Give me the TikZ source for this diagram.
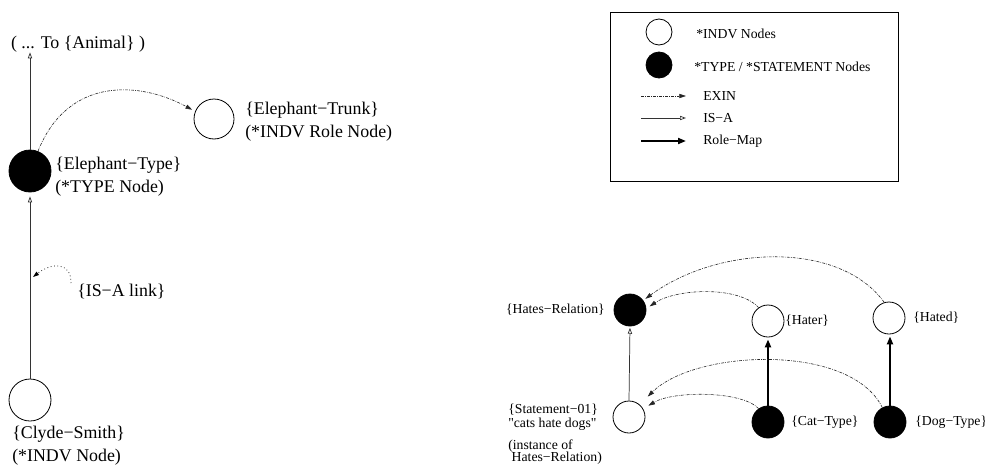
\documentclass[tikz,border=0pt]{standalone}
\usepackage{fontspec}
\setmainfont{Liberation Serif}[Ligatures=TeXOff]
\usetikzlibrary{arrows.meta}
\begin{document}
\begin{tikzpicture}[x=0.75pt,y=-0.75pt,
  indv/.style={circle,draw,line width=0.6pt,fill=white,inner sep=0pt,minimum size=#1},
  indv/.default=24pt,
  typen/.style={circle,draw,fill=black,line width=0.6pt,inner sep=0pt,minimum size=#1},
  typen/.default=24pt,
  bigfont/.style={font=\fontsize{13.4}{17.3}\selectfont,inner sep=0pt,align=left},
  smallfont/.style={font=\fontsize{10.3}{10.5}\selectfont,inner sep=0pt,align=left},
  exin/.style={line width=0.45pt,black!85,dash pattern=on 2.2pt off 0.9pt on 0.5pt off 0.9pt,
    -{Triangle[length=5pt,width=3.2pt]}},
  isa/.style={line width=0.55pt,black!80,-{Triangle[open,length=4.5pt,width=3.2pt]}},
  rolemap/.style={line width=1.7pt,-{Triangle[length=6pt,width=4.5pt]}},
  note/.style={line width=0.55pt,dotted,-{Triangle[length=4.5pt,width=3pt]}}
]
\useasboundingbox (0,0) rectangle (985,464);

% ---------------- left part ----------------
\node[bigfont] (animal) at (78,44) {( ... To \{Animal\} )};
\node[typen=31.5pt] (et) at (30,171) {};
\node[indv=30pt] (trunk) at (214,119) {};
\node[indv=31.5pt] (clyde) at (30,400) {};

\node[bigfont,anchor=west] (etl) at (55,176.5) {\{Elephant−Type\}\\(*TYPE Node)};
\node[bigfont,anchor=west] (trl) at (245,122) {\{Elephant−Trunk\}\\(*INDV Role Node)};
\node[bigfont,anchor=west] (cll) at (12,446) {\{Clyde−Smith\}\\(*INDV Node)};
\node[bigfont,anchor=west] (isal) at (77,291) {\{IS−A link\}};

\draw[isa] (et.north) -- (et.north |- animal.south);
\draw[isa,shorten >=3pt] (clyde.north) -- (et.south);
\draw[exin,shorten >=2.5pt] (et.68) .. controls +(30,-75) and +(-55,-30) .. (trunk.158);
\coordinate (isas) at (71,283);
\draw[note] (isas) .. controls +(0,-22) and +(18,-14) .. (33,277);

% ---------------- legend ----------------
\draw[line width=0.6pt] (610,12) rectangle (898,181);
\node[indv=19.5pt] (lg1) at (659,32) {};
\node[typen=19.5pt] (lg2) at (659,65) {};
\node[smallfont,anchor=west] (lt1) at (696,34) {*INDV Nodes};
\node[smallfont,anchor=west] (lt2) at (694,67) {*TYPE / *STATEMENT Nodes};
\coordinate (e1a) at (641,96); \coordinate (e1b) at (686,96);
\coordinate (e2a) at (641,118); \coordinate (e2b) at (686,118);
\coordinate (e3a) at (641,141); \coordinate (e3b) at (686,141);
\draw[exin] (e1a) -- (e1b);
\draw[isa] (e2a) -- (e2b);
\draw[rolemap,line width=1.4pt] (e3a) -- (e3b);
\node[smallfont,anchor=west] (lt3) at (703,96) {EXIN};
\node[smallfont,anchor=west] (lt4) at (703,118) {IS−A};
\node[smallfont,anchor=west] (lt5) at (703,141) {Role−Map};

% ---------------- right part ----------------
\node[typen] (hates) at (630,310) {};
\node[indv] (stmt) at (629,417) {};
\node[indv] (hater) at (768,321) {};
\node[indv] (hated) at (889,318) {};
\node[typen] (cat) at (768,422) {};
\node[typen] (dog) at (890,422) {};

\node[smallfont,anchor=east] (hatesl) at (605,310) {\{Hates−Relation\}};
\node[smallfont,anchor=west] (stmtl) at (508,417) {\{Statement−01\}\\"cats hate dogs"};
\node[smallfont,anchor=west,font=\fontsize{10.3}{9.5}\selectfont] (stmtl2) at (508,452) {(instance of\\\ Hates−Relation)};
\node[smallfont,anchor=west] (haterl) at (785,321) {\{Hater\}};
\node[smallfont,anchor=west] (hatedl) at (913,318) {\{Hated\}};
\node[smallfont,anchor=west] (catl) at (791,422) {\{Cat−Type\}};
\node[smallfont,anchor=west] (dogl) at (915,422) {\{Dog−Type\}};

\draw[isa,shorten >=1pt] (stmt.north) -- (hates.south);
\draw[rolemap,shorten >=1.5pt] (cat.north) -- (hater.south);
\draw[rolemap,shorten >=1.5pt] (dog.north) -- (dog.north |- hated.south);

\draw[exin,shorten >=2pt] (hated.107) .. controls +(-45,-62) and +(75,-55) .. (hates.36);
\draw[exin,shorten >=3pt] (hater.125) .. controls +(-20,-22) and +(30,-20) .. (hates.5);
\draw[exin,shorten >=8.5pt] (dog.118) .. controls +(-32,-65) and +(55,-55) .. (stmt.49);
\draw[exin,shorten >=4.5pt] (cat.125) .. controls +(-17,-18) and +(30,-18) .. (stmt.30);
\end{tikzpicture}
\end{document}
